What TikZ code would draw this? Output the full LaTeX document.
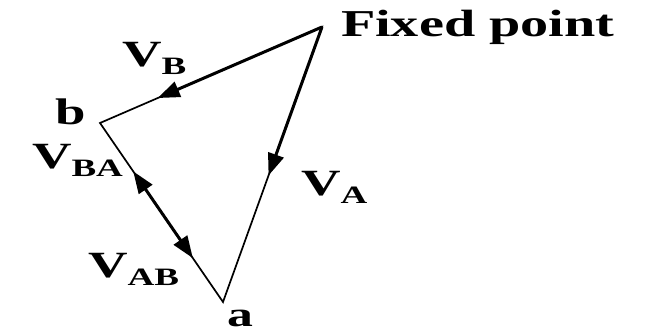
\documentclass[tikz,border=0pt]{standalone}
\usepackage{fontspec}
\setmainfont{Liberation Serif}
\usetikzlibrary{arrows.meta,calc}
\newcommand{\wide}[2]{\scalebox{1.48}[1]{\fontsize{#1}{#1}\selectfont\bfseries #2}}
\newcommand{\vlab}[1]{\wide{37}{V}\raisebox{-8pt}{\wide{25}{#1}}}
\begin{document}
\begin{tikzpicture}[x=1pt,y=-1pt,
  thin line/.style={line width=1.7pt, line join=miter},
  thick line/.style={line width=3pt, -{Triangle[length=22pt,width=16pt]}},
  lab/.style={anchor=base west, inner sep=0pt, outer sep=0pt}]
\useasboundingbox (0,0) rectangle (646,336);
\coordinate (O) at (322,27);
\coordinate (b) at (100,123);
\coordinate (a) at (223,302);
\coordinate (tb) at ($(O)!0.74!(b)$);
\coordinate (ta) at ($(O)!0.54!(a)$);
\coordinate (tba) at ($(b)!0.27!(a)$);
\coordinate (tab) at ($(b)!0.755!(a)$);
\coordinate (mid) at ($(tba)!0.5!(tab)$);
% thin triangle
\draw[thin line] (O) -- (b) -- (a) -- cycle;
% vectors
\draw[thick line] (O) -- (tb);
\draw[thick line] (O) -- (ta);
\draw[thick line] (mid) -- (tba);
\draw[thick line] (mid) -- (tab);
% labels
\node[lab] (fp) at (341,37) {\wide{38}{Fixed point}};
\node[lab] (lb) at (56,125) {\wide{37}{b}};
\node[lab] (la) at (227,327) {\wide{35}{a}};
\node[lab] (lVB) at (122,67) {\vlab{B}};
\node[lab] (lVBA) at (32,169) {\vlab{BA}};
\node[lab] (lVAB) at (88,278) {\vlab{AB}};
\node[lab] (lVA) at (301,196) {\vlab{A}};
\end{tikzpicture}
\end{document}
